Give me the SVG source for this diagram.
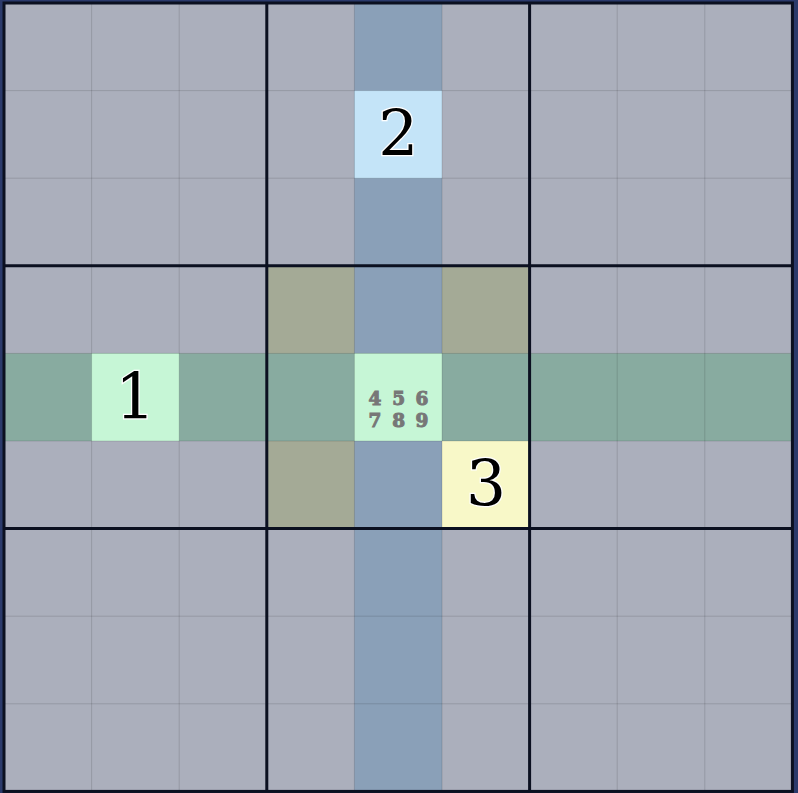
<svg xmlns="http://www.w3.org/2000/svg" width="798" height="793" viewBox="0 0 798 793">
<style>
.c{fill:#abafbc}
.col{fill:#8aa0b8}
.row{fill:#88aba0}
.box{fill:#a4aa96}
.thin{stroke:#000;stroke-opacity:0.13;stroke-width:1;fill:none}
.thick{stroke:#0b1020;stroke-width:3;fill:none}
.big{font-family:"DejaVu Serif","Liberation Serif",serif;font-size:63px;fill:#000;stroke:#fff;stroke-width:2.5;paint-order:stroke;text-anchor:middle}
.cand{font-family:"DejaVu Serif","Liberation Serif",serif;font-weight:bold;font-size:18.5px;fill:#777;stroke:#777;stroke-width:1;text-anchor:middle}
</style>
<rect x="0" y="0" width="798" height="793" fill="#2b3a6b"/>
<g id="cells">
<rect class="c" x="4" y="3" width="788.4" height="788.4"/>
<rect class="box" x="266.8" y="265.8" width="262.8" height="262.8"/>
<rect class="col" x="354.4" y="3" width="87.6" height="788.4"/>
<rect class="row" x="4" y="353.4" width="788.4" height="87.6"/>
</g>
<g id="cell-r2c5"><rect x="354.4" y="90.6" width="87.6" height="87.6" fill="#c4e4f8"/><text class="big" x="398.2" y="156">2</text></g>
<g id="cell-r5c2"><rect x="91.6" y="353.4" width="87.6" height="87.6" fill="#c6f6d6"/><text class="big" x="135.4" y="419">1</text></g>
<g id="cell-r6c6"><rect x="442" y="441" width="87.6" height="87.6" fill="#f8f8c8"/><text class="big" x="486" y="506">3</text></g>
<g id="cell-r5c5"><rect x="354.4" y="353.4" width="87.6" height="87.6" fill="#c6f6d6"/>
<text class="cand" x="375" y="404.5">4</text><text class="cand" x="398.7" y="404.5">5</text><text class="cand" x="422" y="404.5">6</text>
<text class="cand" x="375" y="427">7</text><text class="cand" x="398.7" y="427">8</text><text class="cand" x="422" y="427">9</text></g>
<g id="grid">
<path class="thin" d="M91.6 3V791.4M179.2 3V791.4M354.4 3V791.4M442 3V791.4M617.2 3V791.4M704.8 3V791.4M4 90.6H792.4M4 178.2H792.4M4 353.4H792.4M4 441H792.4M4 616.2H792.4M4 703.8H792.4"/>
<path class="thick" d="M266.8 3V791.4M529.6 3V791.4M4 265.8H792.4M4 528.6H792.4"/>
<rect class="thick" x="4" y="3" width="788.4" height="788.4"/>
</g>
</svg>
